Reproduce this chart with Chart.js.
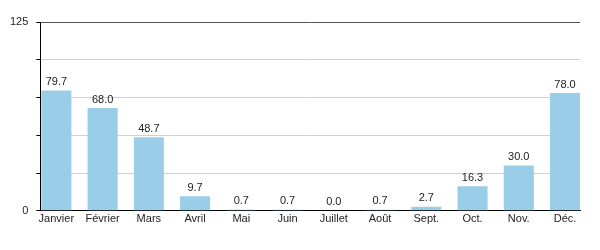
<!DOCTYPE html>
<html>
<head>
<meta charset="utf-8">
<script src="https://cdn.jsdelivr.net/npm/chart.js@4"></script>
<style>
html,body{margin:0;padding:0;background:#fff;}
#wrap{width:600px;height:250px;position:relative;}
</style>
</head>
<body>
<div id="wrap"><canvas id="c" width="600" height="250"></canvas></div>
<script>
const months = ['Janvier','Février','Mars','Avril','Mai','Juin','Juillet','Août','Sept.','Oct.','Nov.','Déc.'];
const values = [79.7, 68.0, 48.7, 9.7, 0.7, 0.7, 0.0, 0.7, 2.7, 16.3, 30.0, 78.0];
const yTickLabels = [0, 125];

const FONT = "'Liberation Sans', Arial, sans-serif";

const valueLabels = {
  id: 'valueLabels',
  afterDatasetsDraw(chart) {
    const ctx = chart.ctx;
    const meta = chart.getDatasetMeta(0);
    ctx.save();
    ctx.font = "11px " + FONT;
    ctx.fillStyle = '#222';
    ctx.textAlign = 'center';
    ctx.textBaseline = 'bottom';
    meta.data.forEach((bar, i) => {
      ctx.fillText(values[i].toFixed(1), bar.x, bar.y - 3);
    });
    ctx.restore();
  }
};

new Chart(document.getElementById('c'), {
  type: 'bar',
  data: {
    datasets: [{
      data: values.map((v, i) => ({x: i, y: v})),
      backgroundColor: '#9acde8',
      borderWidth: 0,
      barPercentage: 0.65,
      categoryPercentage: 1.0
    }]
  },
  options: {
    responsive: false,
    animation: false,
    events: [],
    layout: {padding: {left: 2, right: 20, top: 22, bottom: 22}},
    plugins: {legend: {display: false}, tooltip: {enabled: false}},
    scales: {
      x: {
        type: 'linear',
        offset: false,
        min: -0.346,
        max: 11.324,
        afterBuildTicks(scale) {
          scale.ticks = months.map((m, i) => ({value: i}));
        },
        grid: {display: false, drawTicks: false, offset: false},
        border: {display: true, color: '#000', width: 1},
        ticks: {
          autoSkip: false,
          maxRotation: 0,
          padding: 2,
          color: '#222',
          font: {family: FONT, size: 11},
          callback: (v) => months[v] !== undefined ? months[v] : ''
        }
      },
      y: {
        min: 0,
        max: 125,
        ticks: {
          stepSize: 25,
          padding: 8,
          color: '#222',
          font: {family: FONT, size: 11},
          callback: (v) => yTickLabels.includes(v) ? String(v) : ''
        },
        grid: {
          color: (ctx) => ctx.tick && ctx.tick.value === 125 ? '#555' : (ctx.tick && ctx.tick.value === 0 ? '#000' : '#d0d0d0'),
          tickColor: '#000',
          tickLength: 4,
          drawTicks: true
        },
        border: {display: true, color: '#000', width: 1}
      }
    }
  },
  plugins: [valueLabels]
});
</script>
</body>
</html>
